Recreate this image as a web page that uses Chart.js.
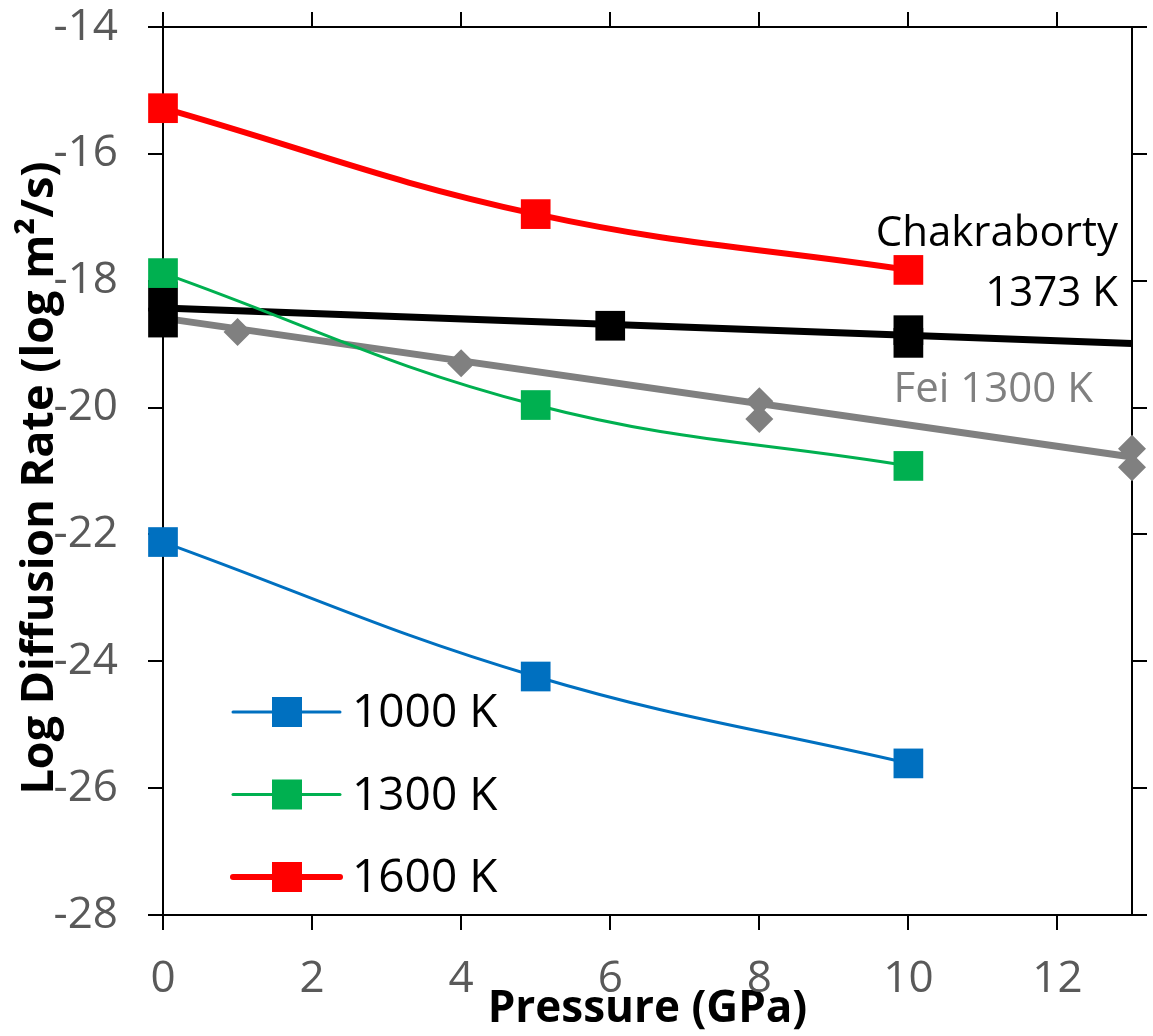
<!DOCTYPE html>
<html>
<head>
<meta charset="utf-8">
<script src="https://cdn.jsdelivr.net/npm/chart.js@4.4.0/dist/chart.umd.min.js"></script>
<style>
  html, body { margin: 0; padding: 0; background: #fff; }
  #wrap { width: 1153px; height: 1036px; }
</style>
</head>
<body>
<div id="wrap"><canvas id="chart"></canvas></div>
<script>
// pressures (GPa) and log diffusion rates
const pressures = [0, 5, 10];
const rate1000 = [-22.12, -24.24, -25.61];
const rate1300 = [-17.88, -19.96, -20.92];
const rate1600 = [-15.28, -16.95, -17.83];

// Chakraborty 1373 K: measured points and fitted line
const chakP = [0, 0, 6, 10, 10];
const chakRate = [-18.25, -18.66, -18.71, -18.78, -18.98];
const chakFitP = [0, 13];
const chakFitRate = [-18.43, -18.99];

// Fei 1300 K: points and fitted line
const feiP = [0, 1, 4, 8, 8, 13, 13];
const feiRate = [-18.6, -18.81, -19.3, -19.9, -20.18, -20.65, -20.94];
const feiFitP = [0, 13];
const feiFitRate = [-18.59, -20.78];

const xTicks = [0, 2, 4, 6, 8, 10, 12];
const yTicks = [-28, -26, -24, -22, -20, -18, -16, -14];

const legendItems = [
  { label: '1000 K', color: '#0070C0', width: 3 },
  { label: '1300 K', color: '#00B050', width: 3 },
  { label: '1600 K', color: '#FF0000', width: 6 }
];

const FONT = '"Open Sans", Lato, sans-serif';

function pts(xs, ys) {
  return xs.map((x, i) => ({ x: x, y: ys[i] }));
}

function series(xs, ys, color, lineWidth) {
  return {
    data: pts(xs, ys),
    borderColor: color,
    backgroundColor: color,
    borderWidth: lineWidth,
    showLine: true,
    tension: 0.4,
    pointStyle: 'rect',
    pointRadius: 21,
    pointBorderWidth: 0,
    clip: false
  };
}

const labelsPlugin = {
  id: 'labels',
  afterDraw(chart) {
    const ctx = chart.ctx;
    ctx.save();
    ctx.textBaseline = 'middle';
    ctx.textAlign = 'right';
    ctx.font = '42px ' + FONT;
    ctx.fillStyle = '#000';
    ctx.fillText('Chakraborty', 1118, 234);
    ctx.fillText('1373 K', 1118, 294);
    ctx.fillStyle = '#808080';
    ctx.fillText('Fei 1300 K', 1093, 390);

    // y axis title, a little below the axis middle as in the figure
    ctx.save();
    ctx.translate(40, 478);
    ctx.rotate(-Math.PI / 2);
    ctx.textAlign = 'center';
    ctx.fillStyle = '#000';
    ctx.font = 'bold 45px ' + FONT;
    ctx.fillText('Log Diffusion Rate (log m²/s)', 0, 0);
    ctx.restore();

    // legend, bottom left of the plot
    ctx.textAlign = 'left';
    ctx.font = '46px ' + FONT;
    legendItems.forEach((it, i) => {
      const y = 712 + i * 82.5;
      ctx.strokeStyle = it.color;
      ctx.lineWidth = it.width;
      ctx.lineCap = 'round';
      ctx.beginPath();
      ctx.moveTo(233, y);
      ctx.lineTo(340, y);
      ctx.stroke();
      ctx.fillStyle = it.color;
      ctx.fillRect(272, y - 15, 30, 30);
      ctx.fillStyle = '#000';
      ctx.fillText(it.label, 352, y + 2);
    });
    ctx.restore();
  }
};

function edgeGrid() {
  return {
    display: true,
    drawOnChartArea: false,
    drawTicks: true,
    tickLength: 15,
    color: '#000',
    lineWidth: 2
  };
}

// pin the plot box to the reference position
function fixSize(prop, value) {
  return s => {
    s[prop] = value;
    s.paddingTop = 0;
    s.paddingBottom = 0;
    s.paddingLeft = 0;
    s.paddingRight = 0;
  };
}

new Chart(document.getElementById('chart'), {
  type: 'scatter',
  data: {
    datasets: [
      series(pressures, rate1600, '#FF0000', 6),
      series(pressures, rate1300, '#00B050', 3),
      series(pressures, rate1000, '#0070C0', 3),
      {
        data: pts(chakP, chakRate),
        backgroundColor: '#000',
        pointStyle: 'rect',
        pointRadius: 21,
        pointBorderWidth: 0,
        showLine: false,
        clip: false
      },
      {
        data: pts(chakFitP, chakFitRate),
        borderColor: '#000',
        borderWidth: 7,
        showLine: true,
        pointRadius: 0,
        clip: false
      },
      {
        data: pts(feiP, feiRate),
        backgroundColor: '#808080',
        pointStyle: 'rectRot',
        pointRadius: 14,
        pointBorderWidth: 0,
        showLine: false,
        clip: false
      },
      {
        data: pts(feiFitP, feiFitRate),
        borderColor: '#808080',
        borderWidth: 7,
        showLine: true,
        pointRadius: 0,
        clip: false
      }
    ]
  },
  options: {
    responsive: true,
    maintainAspectRatio: false,
    animation: false,
    layout: { padding: 0 },
    plugins: {
      legend: { display: false },
      tooltip: { enabled: false }
    },
    scales: {
      x: {
        type: 'linear',
        position: 'bottom',
        min: 0,
        max: 13,
        afterBuildTicks: s => { s.ticks = xTicks.map(v => ({ value: v })); },
        ticks: { color: '#595959', font: { size: 44, family: FONT }, padding: 23, maxRotation: 0 },
        grid: edgeGrid(),
        border: { display: true, color: '#000', width: 2 },
        title: {
          display: true,
          text: 'Pressure (GPa)',
          color: '#000',
          font: { size: 44, weight: 'bold', family: FONT },
          padding: { top: 0, bottom: 0 }
        },
        afterFit: fixSize('height', 121)
      },
      x2: {
        type: 'linear',
        position: 'top',
        min: 0,
        max: 13,
        afterBuildTicks: s => { s.ticks = xTicks.map(v => ({ value: v })); },
        ticks: { display: false },
        grid: edgeGrid(),
        border: { display: true, color: '#000', width: 2 },
        afterFit: fixSize('height', 27)
      },
      y: {
        type: 'linear',
        position: 'left',
        min: -28,
        max: -14,
        afterBuildTicks: s => { s.ticks = yTicks.map(v => ({ value: v })); },
        ticks: { color: '#595959', font: { size: 44, family: FONT }, padding: 30 },
        grid: edgeGrid(),
        border: { display: true, color: '#000', width: 2 },
        afterFit: fixSize('width', 163)
      },
      y2: {
        type: 'linear',
        position: 'right',
        min: -28,
        max: -14,
        afterBuildTicks: s => { s.ticks = yTicks.map(v => ({ value: v })); },
        ticks: { display: false },
        grid: edgeGrid(),
        border: { display: true, color: '#000', width: 2 },
        afterFit: fixSize('width', 16)
      }
    }
  },
  plugins: [labelsPlugin]
});
</script>
</body>
</html>
